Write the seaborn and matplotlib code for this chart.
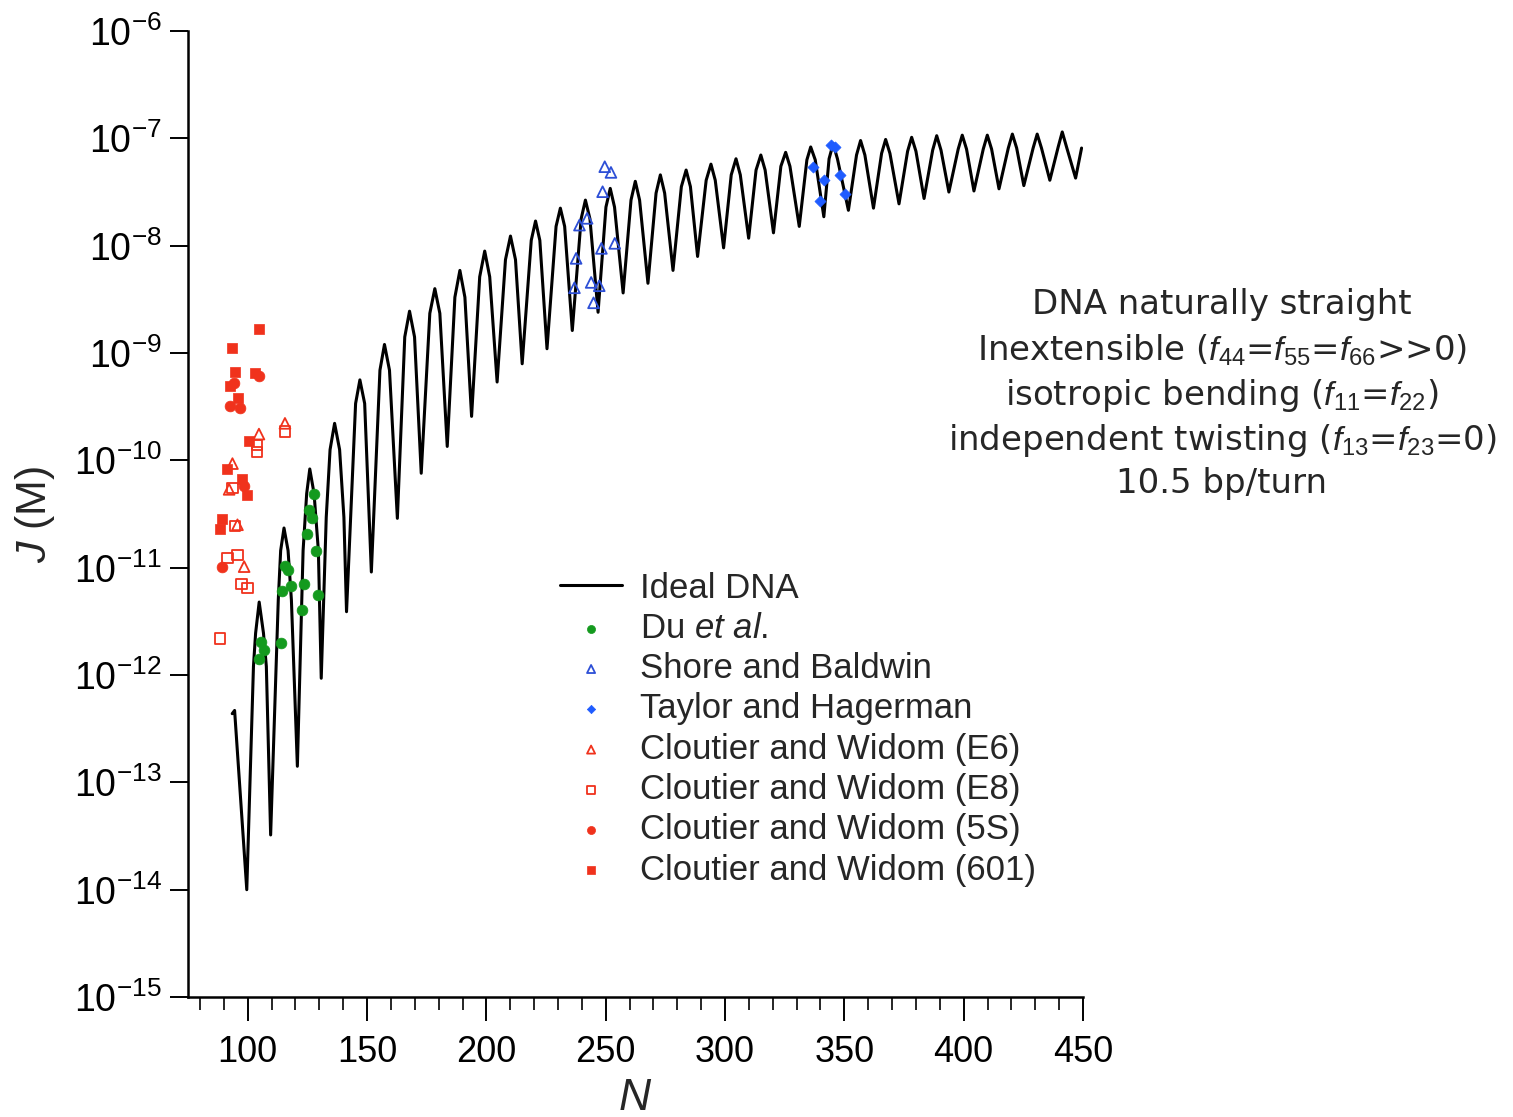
import numpy as np
import pandas as pd
import matplotlib
matplotlib.use('Agg')
import matplotlib.pyplot as plt
from matplotlib.ticker import MultipleLocator, NullLocator, LogLocator
import seaborn as sns

# Ideal DNA curve (N, log10 J):
# each trough, each peak and the peak shoulders
ideal_n = [93.5, 94.5, 99.6,
           102.4, 103.3, 104.8, 106.6, 107.8, 109.6,
           112.8, 113.8, 115.2, 116.9, 118.3, 120.8,
           123.2, 124.7, 126.0, 127.8, 129.6, 130.8,
           132.9, 134.5, 136.4, 138.5, 140.3, 141.4,
           145.2, 147.0, 149.0, 151.8,
           155.4, 157.3, 159.4, 162.7,
           165.8, 167.8, 169.9, 172.7,
           176.3, 178.4, 180.5, 183.6,
           186.8, 188.9, 191.0, 193.8,
           197.2, 199.3, 201.4, 204.5,
           208.0, 210.1, 212.2, 215.0,
           218.8, 220.6, 222.4, 225.4,
           229.2, 231.0, 232.8, 236.0,
           239.7, 241.5, 243.4, 246.8,
           250.1, 251.9, 253.7, 257.3,
           260.6, 262.4, 264.2, 267.7,
           271.1, 272.9, 274.7, 278.2,
           281.7, 283.7, 285.5, 288.5,
           292.1, 294.1, 295.9, 299.4,
           302.6, 304.6, 306.4, 309.9,
           313.0, 315.0, 316.8, 320.3,
           323.4, 325.4, 327.2, 331.1,
           334.3, 335.9, 337.8, 341.4,
           343.6, 345.3, 347.1, 351.7,
           355.1, 356.8, 358.6, 362.2,
           365.6, 367.3, 369.1, 372.9,
           376.5, 378.2, 380.0, 383.4,
           387.0, 388.7, 390.5, 393.8,
           397.7, 399.4, 401.2, 404.3,
           408.2, 409.9, 411.7, 414.8,
           418.7, 420.4, 422.2, 425.2,
           429.1, 430.8, 432.6, 436.1,
           439.6, 441.3, 443.1, 446.9,
           449.4]
ideal_logj = [-12.36, -12.33, -14.00,
              -11.92, -11.61, -11.32, -11.61, -11.92, -13.49,
              -11.30, -10.84, -10.63, -10.84, -11.30, -12.85,
              -10.84, -10.31, -10.08, -10.31, -10.84, -12.03,
              -10.53, -9.90, -9.655, -9.90, -10.53, -11.41,
              -9.47, -9.25, -9.47, -11.04,
              -9.16, -8.92, -9.16, -10.54,
              -8.85, -8.61, -8.85, -10.12,
              -8.63, -8.40, -8.63, -9.87,
              -8.48, -8.23, -8.48, -9.59,
              -8.29, -8.05, -8.29, -9.27,
              -8.13, -7.91, -8.13, -9.10,
              -7.95, -7.77, -7.95, -8.96,
              -7.82, -7.65, -7.82, -8.79,
              -7.75, -7.575, -7.75, -8.62,
              -7.64, -7.466, -7.64, -8.44,
              -7.575, -7.40, -7.575, -8.35,
              -7.51, -7.34, -7.51, -8.23,
              -7.45, -7.295, -7.45, -8.10,
              -7.39, -7.24, -7.39, -8.02,
              -7.34, -7.19, -7.34, -7.93,
              -7.295, -7.155, -7.295, -7.88,
              -7.26, -7.13, -7.26, -7.82,
              -7.20, -7.08, -7.20, -7.73,
              -7.19, -7.05, -7.19, -7.67,
              -7.155, -7.02, -7.155, -7.65,
              -7.14, -7.01, -7.14, -7.61,
              -7.12, -6.99, -7.12, -7.56,
              -7.11, -6.975, -7.11, -7.50,
              -7.10, -6.97, -7.10, -7.49,
              -7.10, -6.97, -7.10, -7.47,
              -7.09, -6.96, -7.09, -7.44,
              -7.09, -6.96, -7.09, -7.39,
              -7.08, -6.94, -7.08, -7.37,
              -7.09]

# Du et al.
du_n = [105.4, 106.8, 104.7, 113.8, 115.6, 117.0, 114.5, 118.0, 123.6, 122.9,
        127.8, 125.7, 126.8, 124.7, 128.8, 129.6]
du_logj = [-11.69, -11.77, -11.85, -11.70, -10.98, -11.02, -11.22, -11.17, -11.15, -11.39,
           -10.31, -10.46, -10.54, -10.69, -10.84, -11.25]

# Shore and Baldwin
shore_n = [249.6, 252.2, 248.7, 242.2, 239.0, 253.8, 248.2, 237.6, 243.9, 247.3, 236.9, 244.9]
shore_logj = [-7.264, -7.317, -7.497, -7.745, -7.808, -7.978, -8.025, -8.118, -8.342, -8.373,
              -8.392, -8.532]

# Taylor and Hagerman
taylor_n = [344.2, 346.1, 337.0, 348.2, 341.5, 350.3, 339.9]
taylor_logj = [-7.062, -7.078, -7.264, -7.342, -7.388, -7.522, -7.581]

# Cloutier and Widom (E6)
e6_n = [115.6, 104.7, 93.6, 92.2, 95.7, 98.5]
e6_logj = [-9.655, -9.755, -10.03, -10.27, -10.60, -10.99]

# Cloutier and Widom (E8)
e8_n = [115.6, 104.0, 103.8, 93.6, 94.7, 95.7, 91.5, 97.4, 99.9, 88.3]
e8_logj = [-9.73, -9.857, -9.92, -10.26, -10.61, -10.88, -10.91, -11.15, -11.19, -11.66]

# Cloutier and Widom (5S)
s5_n = [104.7, 94.3, 92.6, 96.8, 98.5, 89.4]
s5_logj = [-9.21, -9.28, -9.49, -9.51, -10.24, -10.99]

# Cloutier and Widom (601)
w601_n = [104.7, 93.6, 94.7, 103.1, 92.6, 96.1, 100.6, 91.2, 97.5, 99.9, 89.4, 88.3]
w601_logj = [-8.777, -8.957, -9.174, -9.19, -9.31, -9.42, -9.82, -10.08, -10.17, -10.32,
             -10.55, -10.64]

annot_lines = ['DNA naturally straight',
               r'Inextensible ($f_{44}$=$f_{55}$=$f_{66}$>>0)',
               r'isotropic bending ($f_{11}$=$f_{22}$)',
               r'independent twisting ($f_{13}$=$f_{23}$=0)',
               '10.5 bp/turn']

green = '#149a1e'
red = '#f0321c'
blue_tri = '#2d4fd6'
blue_dia = '#1f5cff'

sns.set_style('ticks')
plt.rcParams['font.family'] = ['Liberation Sans', 'DejaVu Sans']
plt.rcParams['mathtext.fontset'] = 'custom'
plt.rcParams['mathtext.rm'] = 'Liberation Sans'
plt.rcParams['mathtext.it'] = 'Liberation Sans:italic'
plt.rcParams['axes.unicode_minus'] = False

fig = plt.figure(figsize=(15.13, 11.17), dpi=100)
ax = fig.add_axes([0.1243, 0.1074, 0.5915, 0.8648])

curve = pd.DataFrame({'N': ideal_n, 'J': 10.0 ** np.array(ideal_logj)})
sns.lineplot(data=curve, x='N', y='J', color='black', lw=2.2, sort=False,
             estimator=None, label='Ideal DNA', ax=ax, zorder=2)

def pts(n, logj):
    return pd.DataFrame({'N': n, 'J': 10.0 ** np.array(logj)})

sns.scatterplot(data=pts(du_n, du_logj), x='N', y='J', marker='o', s=60,
                color=green, edgecolor=green, linewidth=0.5, label='Du $\\it{et\\ al.}$',
                ax=ax, zorder=3)
sns.scatterplot(data=pts(shore_n, shore_logj), x='N', y='J', marker='^', s=60,
                facecolor='none', edgecolor=blue_tri, linewidth=1.3,
                label='Shore and Baldwin', ax=ax, zorder=3)
sns.scatterplot(data=pts(taylor_n, taylor_logj), x='N', y='J', marker='D', s=32,
                color=blue_dia, edgecolor=blue_dia, linewidth=0.5,
                label='Taylor and Hagerman', ax=ax, zorder=3)
sns.scatterplot(data=pts(e6_n, e6_logj), x='N', y='J', marker='^', s=60,
                facecolor='none', edgecolor=red, linewidth=1.3,
                label='Cloutier and Widom (E6)', ax=ax, zorder=3)
sns.scatterplot(data=pts(e8_n, e8_logj), x='N', y='J', marker='s', s=55,
                facecolor='none', edgecolor=red, linewidth=1.3,
                label='Cloutier and Widom (E8)', ax=ax, zorder=3)
sns.scatterplot(data=pts(s5_n, s5_logj), x='N', y='J', marker='o', s=60,
                color=red, edgecolor=red, linewidth=0.5,
                label='Cloutier and Widom (5S)', ax=ax, zorder=3)
sns.scatterplot(data=pts(w601_n, w601_logj), x='N', y='J', marker='s', s=50,
                color=red, edgecolor=red, linewidth=0.5,
                label='Cloutier and Widom (601)', ax=ax, zorder=3)

ax.set_yscale('log')
ax.set_ylim(1e-15, 1e-6)
ax.set_xlim(75, 450)
ax.xaxis.set_major_locator(MultipleLocator(50))
ax.xaxis.set_minor_locator(MultipleLocator(10))
ax.yaxis.set_major_locator(LogLocator(base=10, numticks=20))
ax.yaxis.set_minor_locator(NullLocator())

sns.despine(ax=ax)
for side in ['left', 'bottom']:
    ax.spines[side].set_linewidth(1.8)
    ax.spines[side].set_color('black')
ax.tick_params(axis='x', which='major', direction='out', length=17, width=1.4,
               labelsize=26, pad=10, colors='black')
ax.tick_params(axis='x', which='minor', direction='out', length=9, width=1.4)
ax.tick_params(axis='y', which='major', direction='out', length=13, width=1.4,
               labelsize=27, pad=6, colors='black')

ax.set_xlabel('$N$', fontsize=32, labelpad=6)
ax.set_ylabel('$J$ (M)', fontsize=31, labelpad=12)

handles, labels = ax.get_legend_handles_labels()
ax.legend(handles, labels, loc='upper left', bbox_to_anchor=(0.4156, 0.4405),
          frameon=False, fontsize=25, borderpad=0, borderaxespad=0,
          handlelength=1.79, handletextpad=0.52, labelspacing=0.21, markerscale=0.75)

ys = [305, 350, 395, 440, 484]
for line, y in zip(annot_lines, ys):
    fig.text(1222 / 1513, 1 - y / 1117, line, ha='center', va='center',
             fontsize=24.5, family=['DejaVu Sans'])

fig.savefig('out.png', dpi=100)
